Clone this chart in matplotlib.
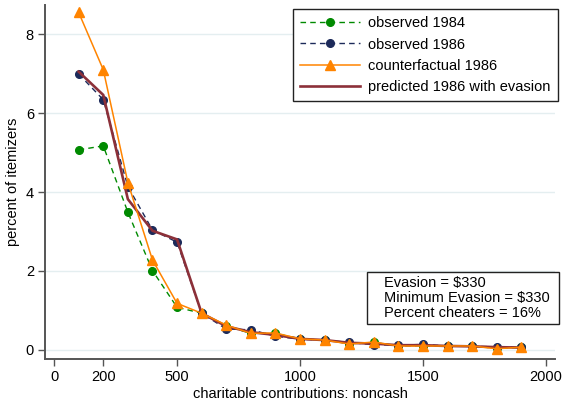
import matplotlib
matplotlib.use('Agg')
import matplotlib.pyplot as plt
from matplotlib.patches import Rectangle

plt.rcParams['font.family'] = ['Liberation Sans', 'DejaVu Sans']

contrib = [100, 200, 300, 400, 500, 600, 700, 800, 900, 1000,
           1100, 1200, 1300, 1400, 1500, 1600, 1700, 1800, 1900]

observed_1984 = [5.07, 5.17, 3.49, 2.01, 1.08, 0.93, 0.60, 0.42, 0.42, 0.28,
                 0.25, 0.16, 0.19, 0.10, 0.11, 0.09, 0.10, 0.04, 0.07]
observed_1986 = [6.99, 6.34, 4.14, 3.04, 2.73, 0.93, 0.53, 0.51, 0.35, 0.27,
                 0.25, 0.19, 0.13, 0.12, 0.14, 0.10, 0.09, 0.08, 0.07]
counterfactual_1986 = [8.55, 7.10, 4.24, 2.28, 1.18, 0.93, 0.63, 0.42, 0.43, 0.28,
                       0.25, 0.15, 0.20, 0.10, 0.10, 0.10, 0.10, 0.03, 0.07]
predicted_1986 = [7.05, 6.46, 3.82, 3.02, 2.80, 0.93, 0.60, 0.45, 0.38, 0.28,
                  0.25, 0.18, 0.16, 0.12, 0.12, 0.10, 0.09, 0.07, 0.06]

x_ticks = [0, 200, 500, 1000, 1500, 2000]
y_ticks = [0, 2, 4, 6, 8]
note_lines = ['Evasion = $330', 'Minimum Evasion = $330', 'Percent cheaters = 16%']

GREEN = '#008a00'
NAVY = '#1c2a5a'
ORANGE = '#ff8400'
MAROON = '#8c3039'
AXIS_GRAY = '#555555'

fig = plt.figure(figsize=(5.7, 4.04), dpi=100)
W, H = 570, 404
ax = fig.add_axes([45 / W, 1 - 359 / H, 510 / W, 354 / H])

ax.plot(contrib, observed_1984, color=GREEN, linestyle='--', dashes=(4, 3),
        linewidth=1.0, marker='o', markersize=5.5, label='observed 1984', zorder=2)
ax.plot(contrib, observed_1986, color=NAVY, linestyle='--', dashes=(4, 3),
        linewidth=1.0, marker='o', markersize=5.5, label='observed 1986', zorder=3)
ax.plot(contrib, predicted_1986, color=MAROON, linewidth=1.9,
        label='predicted 1986 with evasion', zorder=4)
ax.plot(contrib, counterfactual_1986, color=ORANGE, linewidth=1.1,
        marker='^', markersize=7, label='counterfactual 1986', zorder=5)

ax.set_xlim(-37, 2037)
ax.set_ylim(-0.23, 8.74)
ax.set_xticks(x_ticks)
ax.set_yticks(y_ticks)
ax.tick_params(axis='both', direction='out', length=5, width=1.0,
               color=AXIS_GRAY, labelsize=10.5, pad=3)

for side in ('top', 'right'):
    ax.spines[side].set_visible(False)
for side in ('left', 'bottom'):
    ax.spines[side].set_color(AXIS_GRAY)
    ax.spines[side].set_linewidth(1.4)

ax.yaxis.grid(True, color='#e4eef0', linewidth=1.0)
ax.set_axisbelow(True)

ax.set_xlabel('charitable contributions: noncash', fontsize=10.5, labelpad=2)
ax.set_ylabel('percent of itemizers', fontsize=10.5, labelpad=4)

handles, labels = ax.get_legend_handles_labels()
order = [0, 1, 3, 2]
leg = ax.legend([handles[i] for i in order], [labels[i] for i in order],
                loc='upper right', bbox_to_anchor=(558 / W, 1 - 9 / H),
                bbox_transform=fig.transFigure, fontsize=10.5,
                frameon=True, fancybox=False, framealpha=1,
                edgecolor='#222222', handlelength=4.1, handletextpad=0.6,
                labelspacing=0.5, borderpad=0.5, borderaxespad=0)
leg.get_frame().set_linewidth(1.0)

# note box with the evasion estimates
fig.patches.append(Rectangle((367 / W, 1 - 324 / H), 192 / W, 52 / H,
                             transform=fig.transFigure, facecolor='white',
                             edgecolor='#222222', linewidth=1.0, zorder=6))
fig.text(384 / W, 1 - 298 / H, '\n'.join(note_lines), fontsize=10.5,
         va='center', ha='left', linespacing=1.05, zorder=7)

fig.savefig('out.png', dpi=100)
